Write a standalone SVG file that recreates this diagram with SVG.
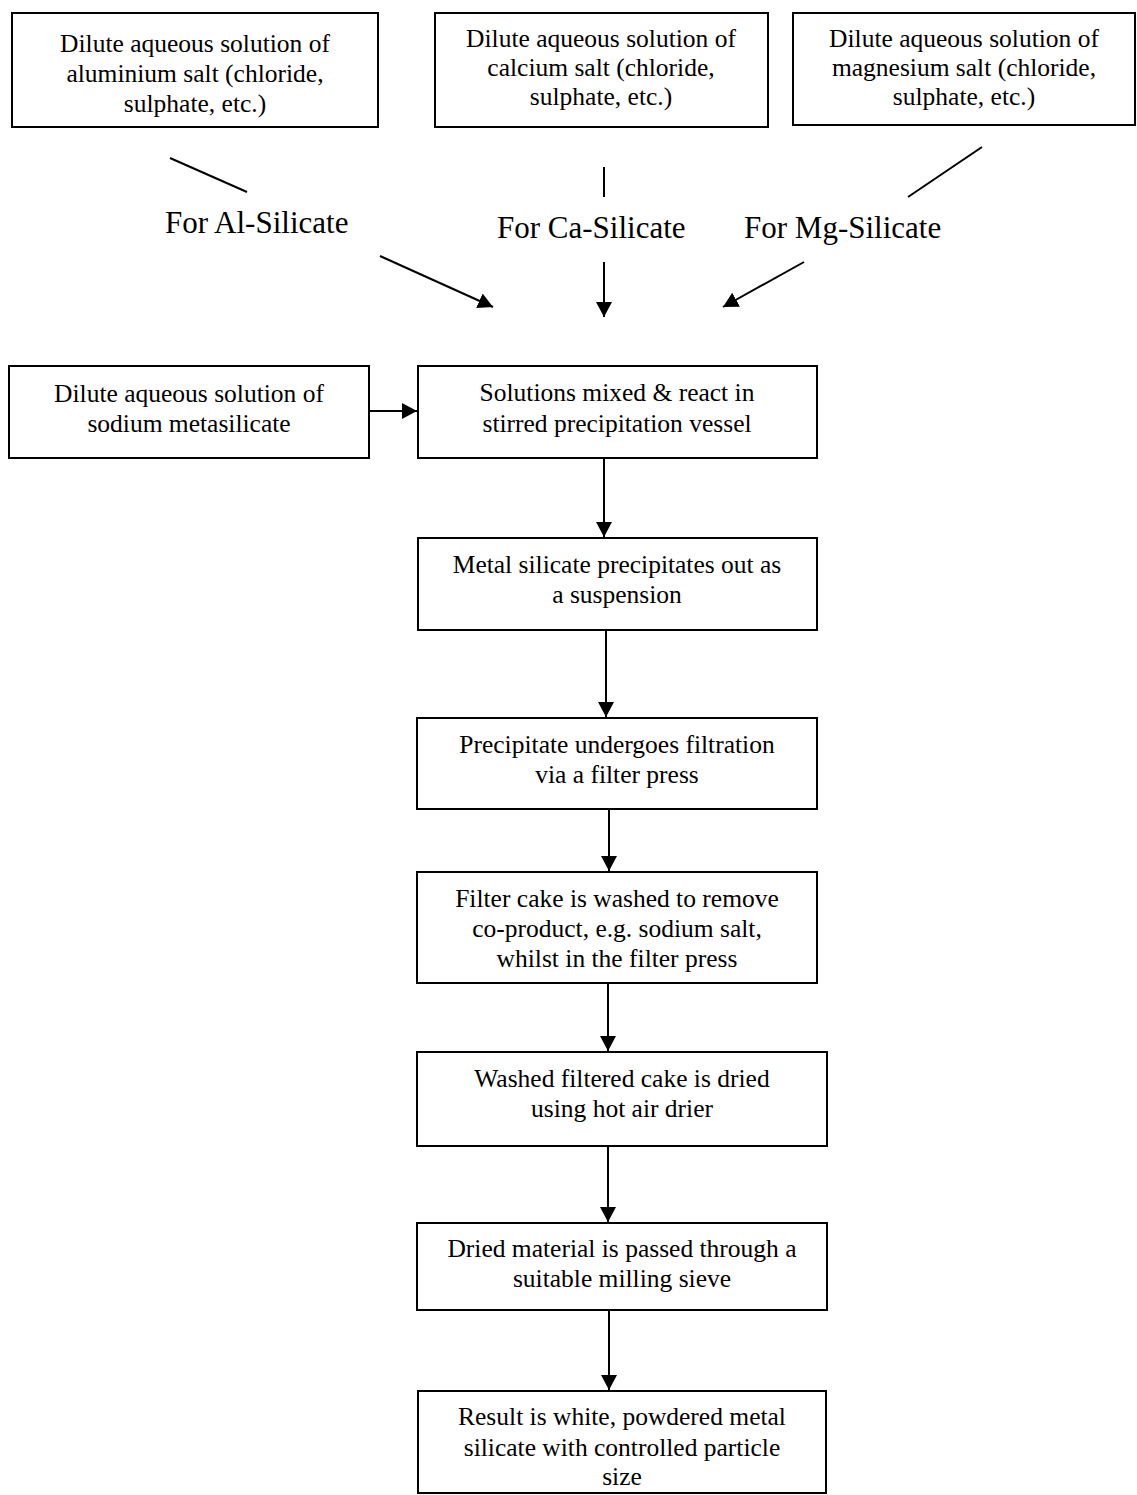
<svg xmlns="http://www.w3.org/2000/svg" width="1137" height="1495" viewBox="0 0 1137 1495">
<style>
.box{fill:#fff;stroke:#000;stroke-width:2}
.t{font-family:"Liberation Serif","Times New Roman",serif;font-size:25.5px;fill:#000;text-anchor:middle}
.lbl{font-family:"Liberation Serif","Times New Roman",serif;font-size:31px;fill:#000}
.c{stroke:#000;stroke-width:2;fill:none}
</style>
<defs>
<marker id="ah" markerUnits="userSpaceOnUse" markerWidth="16" markerHeight="16" refX="15" refY="8" orient="auto">
<path d="M0,0 L15,8 L0,16 Z" fill="#000"/>
</marker>
</defs>
<rect width="1137" height="1495" fill="#fff"/>
<g id="al-salt">
<rect class="box" x="12" y="13" width="366" height="114"/>
<text class="t" x="195" y="52">Dilute aqueous solution of</text>
<text class="t" x="195" y="82">aluminium salt (chloride,</text>
<text class="t" x="195" y="112">sulphate, etc.)</text>
</g>
<g id="ca-salt">
<rect class="box" x="435" y="13" width="333" height="114"/>
<text class="t" x="601" y="47">Dilute aqueous solution of</text>
<text class="t" x="601" y="76">calcium salt (chloride,</text>
<text class="t" x="601" y="105">sulphate, etc.)</text>
</g>
<g id="mg-salt">
<rect class="box" x="793" y="13" width="342" height="112"/>
<text class="t" x="964" y="47">Dilute aqueous solution of</text>
<text class="t" x="964" y="76">magnesium salt (chloride,</text>
<text class="t" x="964" y="105">sulphate, etc.)</text>
</g>
<g id="labels">
<text class="lbl" x="165" y="233">For Al-Silicate</text>
<text class="lbl" x="497" y="238">For Ca-Silicate</text>
<text class="lbl" x="744" y="238">For Mg-Silicate</text>
</g>
<g id="sodium">
<rect class="box" x="9" y="366" width="360" height="92"/>
<text class="t" x="189" y="402">Dilute aqueous solution of</text>
<text class="t" x="189" y="432">sodium metasilicate</text>
</g>
<g id="mix">
<rect class="box" x="418" y="366" width="399" height="92"/>
<text class="t" x="617" y="401">Solutions mixed &amp; react in</text>
<text class="t" x="617" y="432">stirred precipitation vessel</text>
</g>
<g id="precip">
<rect class="box" x="418" y="538" width="399" height="92"/>
<text class="t" x="617" y="573">Metal silicate precipitates out as</text>
<text class="t" x="617" y="603">a suspension</text>
</g>
<g id="filter">
<rect class="box" x="417" y="718" width="400" height="91"/>
<text class="t" x="617" y="753">Precipitate undergoes filtration</text>
<text class="t" x="617" y="783">via a filter press</text>
</g>
<g id="wash">
<rect class="box" x="417" y="872" width="400" height="111"/>
<text class="t" x="617" y="907">Filter cake is washed to remove</text>
<text class="t" x="617" y="937">co-product, e.g. sodium salt,</text>
<text class="t" x="617" y="967">whilst in the filter press</text>
</g>
<g id="dry">
<rect class="box" x="417" y="1052" width="410" height="94"/>
<text class="t" x="622" y="1087">Washed filtered cake is dried</text>
<text class="t" x="622" y="1117">using hot air drier</text>
</g>
<g id="mill">
<rect class="box" x="417" y="1223" width="410" height="87"/>
<text class="t" x="622" y="1257">Dried material is passed through a</text>
<text class="t" x="622" y="1287">suitable milling sieve</text>
</g>
<g id="result">
<rect class="box" x="418" y="1391" width="408" height="102"/>
<text class="t" x="622" y="1425">Result is white, powdered metal</text>
<text class="t" x="622" y="1456">silicate with controlled particle</text>
<text class="t" x="622" y="1485">size</text>
</g>
<g id="connectors">
<line class="c" x1="170" y1="158" x2="247" y2="192"/>
<line class="c" x1="380" y1="256" x2="493" y2="307" marker-end="url(#ah)"/>
<line class="c" x1="604" y1="167" x2="604" y2="197"/>
<line class="c" x1="604" y1="262" x2="604" y2="317" marker-end="url(#ah)"/>
<line class="c" x1="982" y1="147" x2="908" y2="197"/>
<line class="c" x1="804" y1="262" x2="723" y2="307" marker-end="url(#ah)"/>
<line class="c" x1="369" y1="411" x2="417" y2="411" marker-end="url(#ah)"/>
<line class="c" x1="604" y1="458" x2="604" y2="537" marker-end="url(#ah)"/>
<line class="c" x1="606" y1="630" x2="606" y2="717" marker-end="url(#ah)"/>
<line class="c" x1="609" y1="809" x2="609" y2="871" marker-end="url(#ah)"/>
<line class="c" x1="608" y1="983" x2="608" y2="1051" marker-end="url(#ah)"/>
<line class="c" x1="608" y1="1146" x2="608" y2="1222" marker-end="url(#ah)"/>
<line class="c" x1="609" y1="1310" x2="609" y2="1390" marker-end="url(#ah)"/>
</g>
</svg>
